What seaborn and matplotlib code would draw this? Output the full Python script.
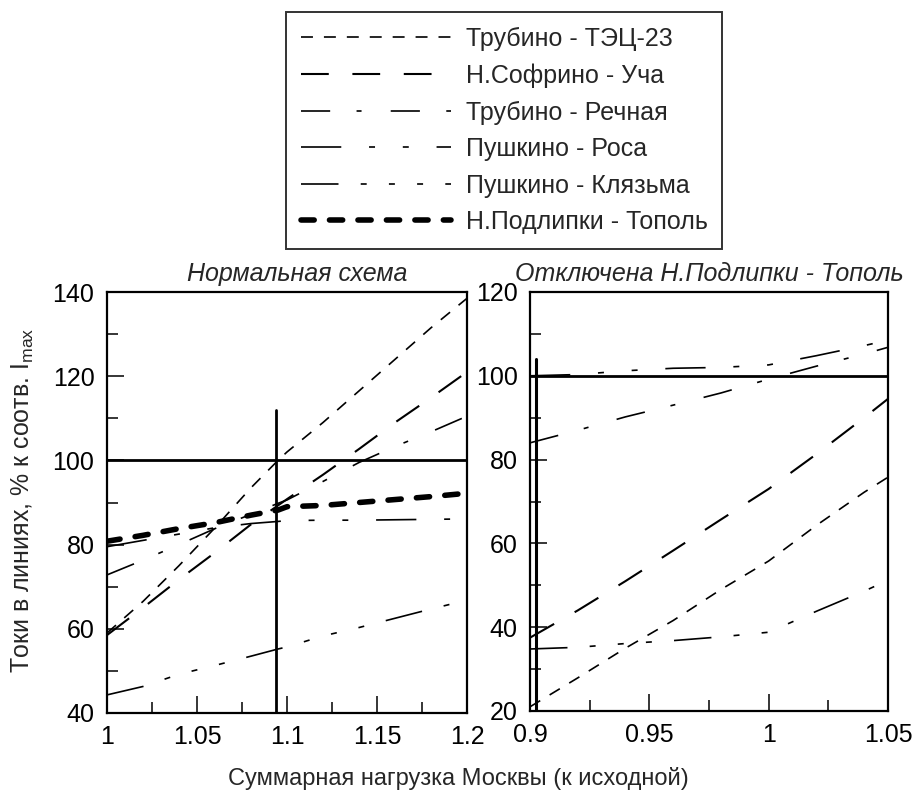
import matplotlib
matplotlib.use("Agg")
import matplotlib.pyplot as plt
import seaborn as sns
from matplotlib.lines import Line2D
from matplotlib.ticker import FixedLocator, FixedFormatter

# ---------------- data ----------------
series_names = ["Трубино - ТЭЦ-23", "Н.Софрино - Уча", "Трубино - Речная",
                "Пушкино - Роса", "Пушкино - Клязьма", "Н.Подлипки - Тополь"]

x_left = [1.0, 1.02, 1.04, 1.06, 1.08, 1.095, 1.1, 1.12, 1.14, 1.16, 1.18, 1.2]
left_tec23 = [59, 66.5, 75, 84, 93.5, 100, 102, 109, 116.5, 124, 131.5, 138.5]
left_ucha = [58.5, 65.0, 71.7, 78.1, 84.8, 89.3, 90.8, 96.6, 102.7, 109, 114.9, 121]
left_rechnaya = [72.8, 76.3, 80, 83.8, 87.2, 89.8, 90.6, 95, 99.5, 103.3, 106.8, 110.5]
left_rosa = [79.5, 81, 82.5, 84, 85, 85.5, 85.7, 85.8, 85.8, 85.9, 86, 86.1]
left_klyazma = [44.3, 46.3, 49.2, 51.3, 53.5, 55.2, 55.7, 58.3, 60.3, 62.5, 64.7, 66.8]
left_topol = [80.8, 82.2, 83.8, 85.2, 87, 88.2, 89, 89.3, 90, 90.7, 91.4, 92.2]

x_right = [0.9, 0.92, 0.94, 0.96, 0.98, 1.0, 1.02, 1.04, 1.05]
right_tec23 = [21, 27.9, 35, 41.6, 49, 55.8, 64.3, 72.2, 75.8]
right_ucha = [37.5, 44, 51, 58.3, 65.7, 73, 81.3, 90, 94.5]
right_rechnaya = [84, 87, 90.2, 93, 95.9, 99.2, 102.3, 105.2, 106.8]
right_rosa = [100, 100.3, 101.2, 101.8, 102, 102.6, 104.8, 107.2, 108.5]
right_klyazma = [34.8, 35.2, 36.1, 36.8, 37.7, 38.8, 43.8, 48.6, 51.2]

# reference lines
left_limit_x = 1.094
left_limit_top = 112
right_limit_x = 0.9025
right_limit_top = 104
limit_level = 100

left_xticks = [1.0, 1.05, 1.1, 1.15, 1.2]
left_xticklabels = ["1", "1.05", "1.1", "1.15", "1.2"]
left_xminor = [1.025, 1.075, 1.125, 1.175]
left_yticks = [40, 60, 80, 100, 120, 140]
left_yminor = [50, 70, 90, 110, 130]

right_xticks = [0.9, 0.95, 1.0, 1.05]
right_xticklabels = ["0.9", "0.95", "1", "1.05"]
right_xminor = [0.925, 0.975, 1.025]
right_yticks = [20, 40, 60, 80, 100, 120]
right_yminor = [30, 50, 70, 90, 110]

# ---------------- style ----------------
sns.set_theme(style="white")
plt.rcParams["font.family"] = ["Liberation Sans", "DejaVu Sans"]
plt.rcParams["mathtext.fontset"] = "custom"
plt.rcParams["mathtext.rm"] = "Liberation Sans"
plt.rcParams["mathtext.it"] = "Liberation Sans:italic"
plt.rcParams["mathtext.default"] = "regular"
plt.rcParams["lines.scale_dashes"] = False

styles = {
    "Трубино - ТЭЦ-23": dict(lw=1.2, ls=(0, (8.6, 7.9))),
    "Н.Софрино - Уча": dict(lw=1.5, ls=(0, (20, 17))),
    "Трубино - Речная": dict(lw=1.2, ls=(0, (21, 19, 3.6, 21))),
    "Пушкино - Роса": dict(lw=1.2, ls=(0, (29, 20, 4.3, 20, 4.3, 20))),
    "Пушкино - Клязьма": dict(lw=1.2, ls=(0, (27, 16, 4.3, 16, 4.3, 16, 4.3, 16))),
    "Н.Подлипки - Тополь": dict(lw=4.0, ls=(0, (9.5, 11))),
}

W, H = 916, 795
fig = plt.figure(figsize=(W / 100, H / 100), dpi=100)
axL = fig.add_axes([107 / W, 1 - 713 / H, 360 / W, (713 - 292) / H])
axR = fig.add_axes([530 / W, 1 - 711 / H, 358 / W, (711 - 292) / H])


def draw(ax, x, ys, names):
    for name, y in zip(names, ys):
        st = styles[name]
        sns.lineplot(x=x, y=y, ax=ax, color="black", linewidth=st["lw"],
                     linestyle=st["ls"], sort=False, estimator=None,
                     dash_capstyle="round" if "Тополь" in name else "butt",
                     label=name, legend=False)


draw(axL, x_left,
     [left_tec23, left_ucha, left_rechnaya, left_rosa, left_klyazma, left_topol],
     series_names)
draw(axR, x_right,
     [right_tec23, right_ucha, right_rechnaya, right_rosa, right_klyazma],
     series_names[:5])

# limit lines
axL.axhline(limit_level, color="black", lw=2.0)
axL.plot([left_limit_x, left_limit_x], [40, left_limit_top], color="black", lw=2.0)
axR.axhline(limit_level, color="black", lw=2.0)
axR.plot([right_limit_x, right_limit_x], [20, right_limit_top], color="black", lw=2.2)


def style_axes(ax, xlim, ylim, xt, xtl, xm, yt, ym):
    ax.set_xlim(*xlim)
    ax.set_ylim(*ylim)
    ax.xaxis.set_major_locator(FixedLocator(xt))
    ax.xaxis.set_major_formatter(FixedFormatter(xtl))
    ax.xaxis.set_minor_locator(FixedLocator(xm))
    ax.yaxis.set_major_locator(FixedLocator(yt))
    ax.set_yticklabels([str(v) for v in yt])
    ax.yaxis.set_minor_locator(FixedLocator(ym))
    ax.tick_params(which="both", direction="in", top=False, right=False,
                   bottom=True, left=True, color="black", width=1.1)
    ax.tick_params(which="major", length=12, labelsize=18, pad=9,
                   labelcolor="black")
    ax.tick_params(which="minor", length=8)
    for sp in ax.spines.values():
        sp.set_visible(True)
        sp.set_color("black")
        sp.set_linewidth(1.6)
    ax.set_xlabel("")
    ax.set_ylabel("")
    ax.grid(False)
    ax.set_facecolor("white")


style_axes(axL, (1.0, 1.2), (40, 140), left_xticks, left_xticklabels,
           left_xminor, left_yticks, left_yminor)
style_axes(axR, (0.9, 1.05), (20, 120), right_xticks, right_xticklabels,
           right_xminor, right_yticks, right_yminor)

axL.set_title("Нормальная схема", fontsize=18, style="italic", pad=8, x=0.527)
axR.set_title("Отключена Н.Подлипки - Тополь", fontsize=18, style="italic", pad=8)

fig.text(23 / W, 1 - 500 / H, "Токи в линиях, % к соотв. I$_{max}$",
         rotation=90, ha="center", va="center", fontsize=18)
fig.text(458 / W, 1 - 778 / H, "Суммарная нагрузка Москвы (к исходной)",
         ha="center", va="center", fontsize=17)

handles = []
for name in series_names:
    st = styles[name]
    handles.append(Line2D([], [], color="black", lw=st["lw"], linestyle=st["ls"],
                          dash_capstyle="round" if "Тополь" in name else "butt"))
leg = fig.legend(handles, series_names, loc="upper center",
                 bbox_to_anchor=(504 / W, 1 - 12 / H), frameon=True,
                 fancybox=False, shadow=False, fontsize=18, handlelength=6.0,
                 handletextpad=0.6, labelspacing=0.5, borderpad=0.6,
                 borderaxespad=0)
leg.get_frame().set_edgecolor("black")
leg.get_frame().set_linewidth(1.4)

fig.savefig("out.png", dpi=100, facecolor="white")
